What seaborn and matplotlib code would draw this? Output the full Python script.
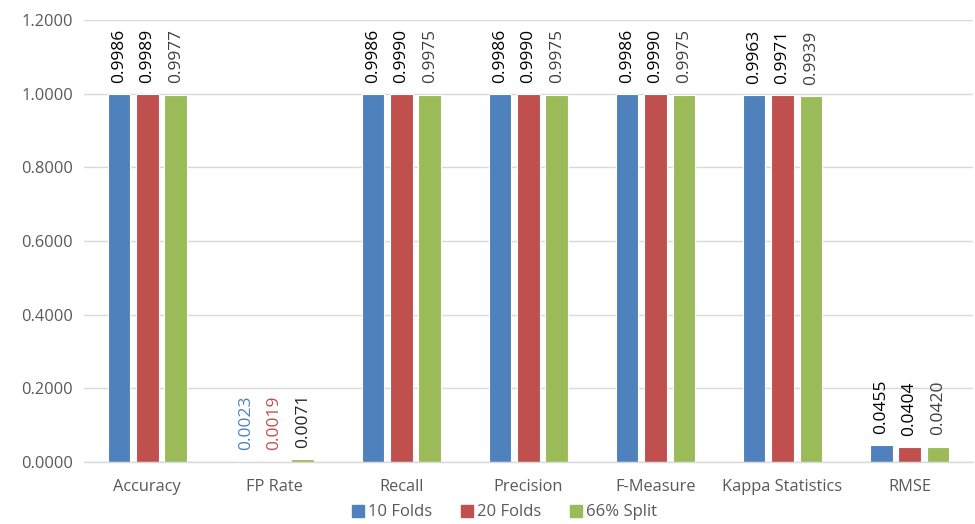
import matplotlib
matplotlib.use("Agg")
import matplotlib.pyplot as plt
from matplotlib.lines import Line2D
import seaborn as sns
import pandas as pd

categories = ["Accuracy", "FP Rate", "Recall", "Precision", "F-Measure",
              "Kappa Statistics", "RMSE"]
series_names = ["10 Folds", "20 Folds", "66% Split"]
folds_10 = [0.9986, 0.0023, 0.9986, 0.9986, 0.9986, 0.9963, 0.0455]
folds_20 = [0.9989, 0.0019, 0.9990, 0.9990, 0.9990, 0.9971, 0.0404]
split_66 = [0.9977, 0.0071, 0.9975, 0.9975, 0.9975, 0.9939, 0.0420]
y_ticks = [0.0, 0.2, 0.4, 0.6, 0.8, 1.0, 1.2]

sns.set_theme(style="white")
plt.rcParams["font.family"] = ["Open Sans", "DejaVu Sans"]

colors = ["#4F81BD", "#C0504D", "#9BBB59"]
text_gray = "#595959"

df = pd.DataFrame({
    "Metric": categories * 3,
    "Value": folds_10 + folds_20 + split_66,
    "Series": [series_names[0]] * 7 + [series_names[1]] * 7 + [series_names[2]] * 7,
})

fig = plt.figure(figsize=(9.75, 5.24), dpi=100)
ax = fig.add_axes([0.086, 0.1183, 0.912, 0.8435])

sns.barplot(data=df, x="Metric", y="Value", hue="Series", order=categories,
            hue_order=series_names, palette=colors, saturation=1,
            width=0.67, gap=0.2, edgecolor="white", linewidth=0.8,
            legend=False, ax=ax)

ax.set_ylim(0, 1.2)
ax.set_xlim(-0.5, len(categories) - 0.5)
ax.set_yticks(y_ticks)
ax.set_yticklabels([f"{t:.4f}" for t in y_ticks])
ax.grid(axis="y", color="#D9D9D9", linewidth=1.0)
ax.set_axisbelow(True)
for side in ["top", "right", "left"]:
    ax.spines[side].set_visible(False)
ax.spines["bottom"].set_color("#D9D9D9")
ax.spines["bottom"].set_linewidth(1.0)
ax.tick_params(axis="both", length=0, colors=text_gray, labelsize=11.8, pad=8)
ax.tick_params(axis="x", pad=12)
ax.set_xlabel("")
ax.set_ylabel("")

# value labels above each bar; the FP Rate group uses series colours
series_vals = [folds_10, folds_20, split_66]
label_colors = ["#000000", "#000000", "#404040"]
fp_label_colors = ["#4F81BD", "#C0504D", "#262626"]
for s, container in enumerate(ax.containers):
    for i, bar in enumerate(container):
        val = series_vals[s][i]
        col = fp_label_colors[s] if categories[i] == "FP Rate" else label_colors[s]
        ax.annotate(f"{val:.4f}", (bar.get_x() + bar.get_width() / 2, val),
                    xytext=(0, 8), textcoords="offset points",
                    rotation=90, ha="center", va="bottom",
                    fontsize=12.5, color=col)

handles = [Line2D([0], [0], marker="s", linestyle="", markersize=9,
                  markerfacecolor=c, markeredgecolor=c) for c in colors]
fig.legend(handles, series_names, loc="center", bbox_to_anchor=(0.516, 0.022),
           ncol=3, frameon=False, fontsize=12, labelcolor=text_gray,
           handletextpad=0.1, columnspacing=1.6, handlelength=1.0)

fig.savefig("out.png", dpi=100)
